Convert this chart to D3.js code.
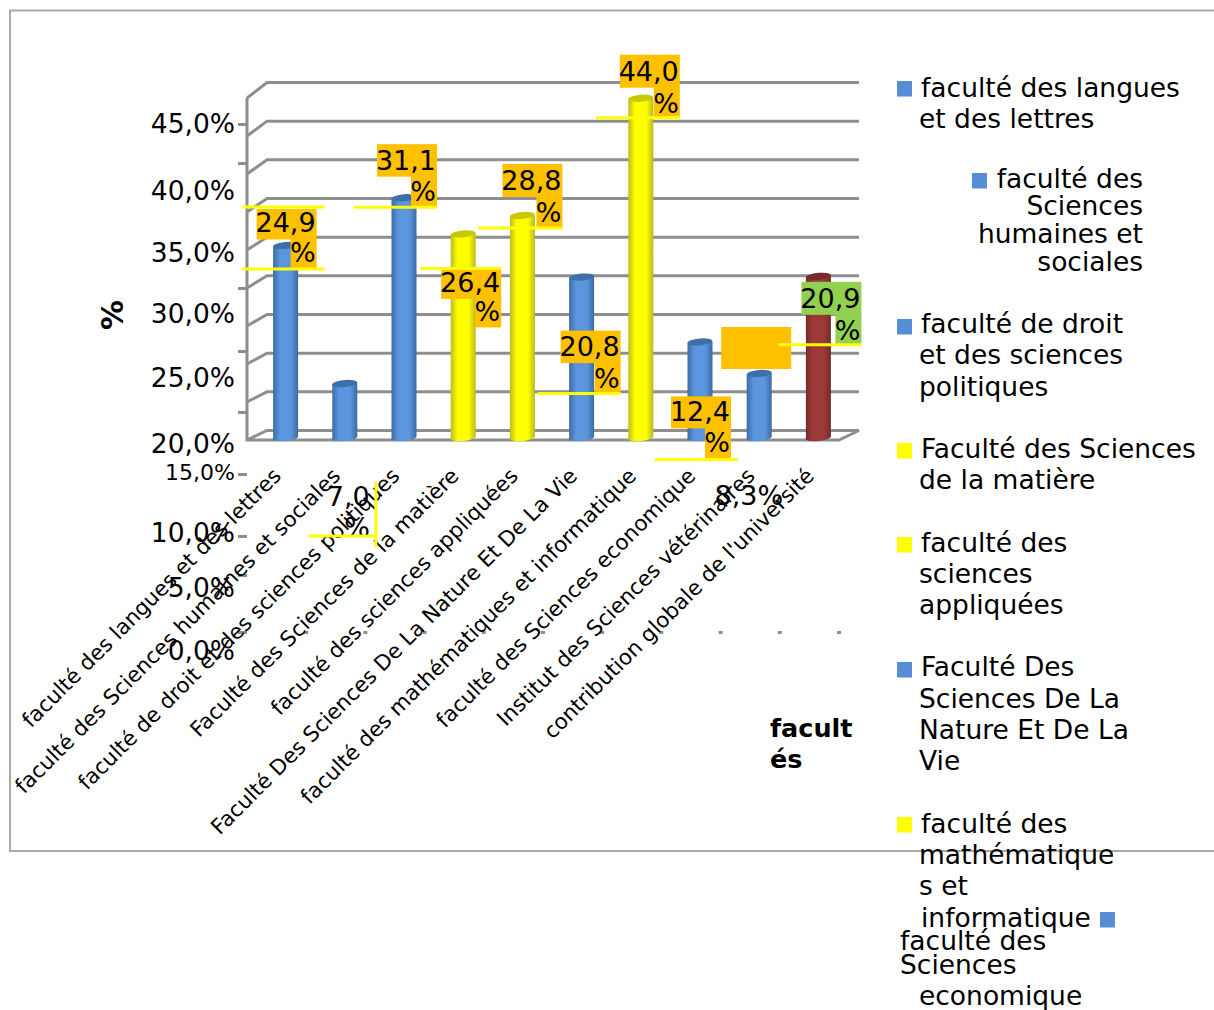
<!DOCTYPE html>
<html>
<head>
<meta charset="utf-8">
<script src="https://cdnjs.cloudflare.com/ajax/libs/d3/7.8.5/d3.min.js"></script>
<style>
html, body { margin: 0; padding: 0; background: #fff; overflow: hidden; }
svg { display: block; }
text { font-family: "DejaVu Sans", sans-serif; fill: #000; }
</style>
</head>
<body>
<div id="chart"></div>
<script>
// Chart data.
var categories = [
    "faculté des langues et des lettres",
    "faculté des Sciences humaines et sociales",
    "faculté de droit et des sciences politiques",
    "Faculté des Sciences de la matière",
    "faculté des sciences appliquées",
    "Faculté Des Sciences De La Nature Et De La Vie",
    "faculté des mathématiques et informatique",
    "faculté des Sciences economique",
    "Institut des Sciences vétérinaires",
    "contribution globale de l'université"
];
var values = [24.9, 7.0, 31.1, 26.4, 28.8, 20.8, 44.0, 12.4, 8.3, 20.9];
var groups = ["blue", "blue", "blue", "yellow", "yellow", "blue", "yellow", "blue", "blue", "red"];
var yTicks = [0, 5, 10, 15, 20, 25, 30, 35, 40, 45];
var yTitle = "%";
var xTitle = ["facult", "és"];
var legendText = [
    ["faculté des langues", "et des lettres"],
    ["faculté des", "Sciences", "humaines et", "sociales"],
    ["faculté de droit", "et des sciences", "politiques"],
    ["Faculté des Sciences", "de la matière"],
    ["faculté des", "sciences", "appliquées"],
    ["Faculté Des", "Sciences De La", "Nature Et De La", "Vie"],
    ["faculté des", "mathématique", "s et", "informatique"],
    ["faculté des", "Sciences", "economique"]
];
var legendGroups = ["blue", "blue", "blue", "yellow", "yellow", "blue", "yellow", "blue"];

// Layout of the labels, which sit well away from their bars in this chart.
// [dx, dy] from bar top to the right/bottom corner of the label.
var labelOffset = [[31, 22], [26, 159], [33, 9], [38, 93], [40, 12], [39, 116], [39, 20], [31, 116], [24, 137], [43, 69]];
var labelLine = [29.5, 31, 31.5, 29.5, 32, 31.5, 32, 31, 0, 32];
var labelFill = ["#ffc000", null, "#ffc000", "#ffc000", "#ffc000", "#ffc000", "#ffc000", "#ffc000", null, "#92d050"];
// Leader lines relative to the same corner: [x0, x1, y] horizontal.
var leaders = [
    [[-74, 8, 1], [-74, 8, -61]],
    [[-62, 5, -7]],
    [[-83, 0, 0]],
    [[-81, 0, -59]],
    [[-84, 0, 0]],
    [[-83, 0, 0]],
    [[-84, 0, -1]],
    [[-76, 7, 1]],
    [],
    [[-83, 0, -1]]
];
// x, y of marker, then one [x, baseline, anchor] per text line.
var legendLayout = [
    { mx: 897, my: 81, lines: [[921, 97], [919, 128]] },
    { mx: 972, my: 173, lines: [[1143, 188, "end"], [1143, 215, "end"], [1143, 243, "end"], [1143, 271, "end"]] },
    { mx: 897, my: 319, lines: [[921, 333], [919, 364], [919, 396]] },
    { mx: 897, my: 443, lines: [[921, 458], [919, 489]] },
    { mx: 897, my: 537, lines: [[921, 552], [919, 583], [919, 614]] },
    { mx: 897, my: 662, lines: [[921, 676], [919, 708], [919, 739], [919, 770]] },
    { mx: 897, my: 817, lines: [[921, 833], [919, 864], [919, 895], [921, 927]] },
    { mx: 1100, my: 912, lines: [[900, 950], [900, 974], [919, 1005]] }
];

var colors = {
    blue: { mark: "#558ed5", edge: "#3c6ba3", mid: "#5b95dd", top: "#3f6fa8" },
    yellow: { mark: "#ffff00", edge: "#b9b91e", mid: "#ffff00", top: "#c8c800" },
    red: { mark: "#953735", edge: "#742b29", mid: "#9c3a38", top: "#762c2a" }
};

var width = 1214, height = 1010;
var gridColor = "#8e8e8e";

var svg = d3.select("#chart").append("svg")
    .attr("width", width)
    .attr("height", height);

// Frame runs off the right edge.
svg.append("rect")
    .attr("x", 10).attr("y", 10.5)
    .attr("width", width + 10).attr("height", 840.5)
    .attr("fill", "none")
    .attr("stroke", "#a9a9a9")
    .attr("stroke-width", 2);

// Scales.
var yBack = d3.scaleLinear().domain([0, 45]).range([430.5, 82.5]);
var yFront = d3.scaleLinear().domain([0, 45]).range([440, 98]);
var yBar = d3.scaleLinear().domain([0, 45]).range([438, 91]);
var x = d3.scaleBand().domain(categories).range([256, 848]);
// Tick labels and tick marks do not line up with the gridlines in this chart.
var yLabel = d3.scaleLinear().domain(yTicks).range([650, 587, 532, 471, 443, 377, 313, 252, 190, 123]);
var yMark = d3.scaleLinear().domain(yTicks).range([632, 575, 536, 474, 412, 351, 288, 225, 163, 124]);

var xLeft = 247, xRight = 839, depth = 20;

// Walls and floor.
var grid = svg.append("g").attr("fill", "none").attr("stroke", gridColor).attr("stroke-width", 3);
grid.selectAll(".gridline")
    .data(yTicks)
    .enter().append("path")
    .attr("class", "gridline")
    .attr("d", d => "M" + xLeft + "," + yFront(d) + "L" + (xLeft + depth) + "," + yBack(d) + "H" + (xRight + depth));
grid.append("path")
    .attr("d", "M" + xLeft + "," + yFront(45) + "V" + yFront(0) + "H" + xRight + "L" + (xRight + depth) + "," + yBack(0));

// Value axis tick marks, 35 % has none visible.
svg.append("g")
    .attr("transform", "translate(247,0)")
    .call(d3.axisLeft(yMark).tickValues(yTicks.filter(d => d != 35)).tickSize(9).tickFormat(""))
    .call(g => g.select(".domain").remove())
    .call(g => g.selectAll("line").attr("stroke", gridColor).attr("stroke-width", 3));

// Stray category tick marks at the bottom.
svg.append("g").selectAll("rect")
    .data(categories)
    .enter().append("rect")
    .attr("x", d => x(d) - 9 + x.step() - 2)
    .attr("y", 631)
    .attr("width", 4).attr("height", 3)
    .attr("fill", gridColor);

// Bar gradients.
var defs = svg.append("defs");
Object.keys(colors).forEach(function(k) {
    var grad = defs.append("linearGradient").attr("id", "grad-" + k);
    grad.append("stop").attr("offset", "0").attr("stop-color", colors[k].edge);
    grad.append("stop").attr("offset", "0.28").attr("stop-color", colors[k].mid);
    grad.append("stop").attr("offset", "0.72").attr("stop-color", colors[k].mid);
    grad.append("stop").attr("offset", "1").attr("stop-color", colors[k].edge);
});

// Cylinders.
var barWidth = 25, ry = 3.5;
var bars = svg.append("g").selectAll("g")
    .data(values)
    .enter().append("g")
    .attr("transform", (d, i) => "translate(" + (x(categories[i]) + x.bandwidth() / 2) + ",0)");

bars.append("path")
    .attr("fill", (d, i) => "url(#grad-" + groups[i] + ")")
    .attr("d", d => "M" + (-barWidth / 2) + "," + yBar(d) +
        "V" + yBar(0) +
        "A" + (barWidth / 2) + "," + ry + " -6 0 0 " + (barWidth / 2) + "," + (yBar(0) - 1) +
        "V" + (yBar(d) - 1) + "Z");
bars.append("ellipse")
    .attr("cy", d => yBar(d) - 0.5)
    .attr("rx", barWidth / 2)
    .attr("ry", ry)
    .attr("transform", d => "rotate(-5 0 " + yBar(d) + ")")
    .attr("fill", (d, i) => colors[groups[i]].top);

// Category labels.
svg.append("g")
    .attr("transform", "translate(0,478)")
    .call(d3.axisBottom(x).tickSize(0).tickPadding(0))
    .call(g => g.select(".domain").remove())
    .call(g => g.selectAll("text")
        .attr("y", 0).attr("dy", 0)
        .attr("dx", 4)
        .attr("text-anchor", "end")
        .attr("transform", "translate(-6,2) rotate(-45)")
        .attr("font-family", "DejaVu Sans")
        .attr("font-size", 21.3));

// Value labels.
svg.append("g")
    .attr("transform", "translate(235,0)")
    .call(d3.axisLeft(yLabel).tickValues(yTicks).tickSize(0).tickPadding(0)
        .tickFormat(d => d3.format(".1f")(d).replace(".", ",") + "%"))
    .call(g => g.select(".domain").remove())
    .call(g => g.selectAll("text")
        .attr("dy", "0.365em")
        .attr("font-family", "DejaVu Sans")
        .attr("font-size", d => d == 15 ? 22 : 26.5));

// Axis titles.
svg.append("text")
    .attr("transform", "translate(123,315) rotate(-90)")
    .attr("text-anchor", "middle")
    .attr("font-size", 30)
    .attr("font-weight", "bold")
    .text(yTitle);

svg.append("g").selectAll("text")
    .data(xTitle)
    .enter().append("text")
    .attr("x", 770)
    .attr("y", (d, i) => 737 + i * 31)
    .attr("font-size", 25.5)
    .attr("font-weight", "bold")
    .text(d => d);

// Empty orange box that belongs to the 8,3 % label.
svg.append("rect")
    .attr("x", x(categories[8]) + x.bandwidth() / 2 - 38)
    .attr("y", yBar(values[8]) - 47)
    .attr("width", 70).attr("height", 42)
    .attr("fill", "#ffc000");

// Data labels.
var labelWidth = 60, percentWidth = 26, labelSize = 27;
function labelX(i) { return x(categories[i]) + x.bandwidth() / 2 + labelOffset[i][0]; }
function labelY(i) { return yBar(values[i]) + labelOffset[i][1]; }
function fmt(d) { return d3.format(".1f")(d).replace(".", ","); }

var labels = svg.append("g").selectAll("g")
    .data(values)
    .enter().append("g")
    .attr("transform", (d, i) => "translate(" + labelX(i) + "," + labelY(i) + ")");

labels.each(function(d, i) {
    var g = d3.select(this);
    var lh = labelLine[i];
    if (labelFill[i]) {
        g.append("rect")
            .attr("x", -labelWidth).attr("y", -2 * lh)
            .attr("width", labelWidth).attr("height", lh + 1)
            .attr("fill", labelFill[i]);
        g.append("rect")
            .attr("x", -percentWidth).attr("y", -lh)
            .attr("width", percentWidth).attr("height", lh)
            .attr("fill", labelFill[i]);
    }
    if (i == 8) {
        g.append("text").attr("text-anchor", "end").attr("y", -6)
            .attr("font-size", labelSize).text(fmt(d) + "%");
        return;
    }
    g.append("text").attr("text-anchor", "end").attr("y", -6 - lh).attr("x", -1)
        .attr("font-size", labelSize).text(fmt(d));
    g.append("text").attr("text-anchor", "end").attr("y", -6).attr("x", -1)
        .attr("font-size", labelSize).text("%");
});

// Leader lines.
labels.each(function(d, i) {
    d3.select(this).selectAll(".leader")
        .data(leaders[i])
        .enter().append("line")
        .attr("class", "leader")
        .attr("x1", l => l[0]).attr("x2", l => l[1])
        .attr("y1", l => l[2]).attr("y2", l => l[2])
        .attr("stroke", "#ffff00")
        .attr("stroke-width", 3);
});
// The 7,0 % label also has an upright leader.
labels.filter((d, i) => i == 1).append("line")
    .attr("x1", 5).attr("x2", 5)
    .attr("y1", -61).attr("y2", 4)
    .attr("stroke", "#ffff00")
    .attr("stroke-width", 3);

// Legend.
var legend = svg.append("g").selectAll("g")
    .data(legendText)
    .enter().append("g");

legend.append("rect")
    .attr("x", (d, i) => legendLayout[i].mx)
    .attr("y", (d, i) => legendLayout[i].my)
    .attr("width", 15).attr("height", 15.5)
    .attr("fill", (d, i) => colors[legendGroups[i]].mark);

legend.each(function(lines, i) {
    d3.select(this).selectAll("text")
        .data(lines)
        .enter().append("text")
        .attr("x", (d, j) => legendLayout[i].lines[j][0])
        .attr("y", (d, j) => legendLayout[i].lines[j][1])
        .attr("text-anchor", (d, j) => legendLayout[i].lines[j][2] || "start")
        .attr("font-size", 26.5)
        .text(d => d);
});
</script>
</body>
</html>
